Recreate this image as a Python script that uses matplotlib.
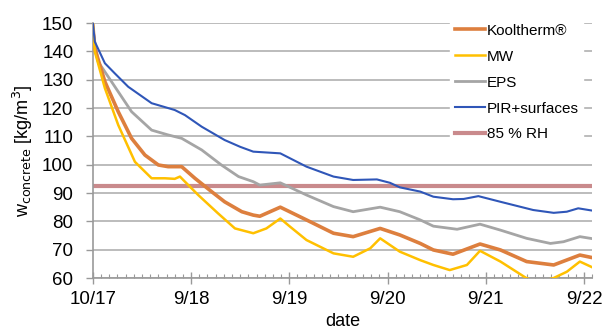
import matplotlib.pyplot as plt
from matplotlib.ticker import MultipleLocator

plt.rcParams["font.family"] = ["Liberation Sans", "DejaVu Sans"]

# months since 10/17
tick_pos = [0, 12, 24, 36, 48, 60]
tick_labels = ["10/17", "9/18", "9/19", "9/20", "9/21", "9/22"]

pir_x = [0, 0.24, 1.47, 2.69, 4.32, 7.18, 10.0, 11.25, 13.3, 16.1, 18.0, 19.6, 22.9,
         26.1, 29.4, 31.8, 34.7, 36.3, 37.5, 40.0, 41.6, 44.0, 45.3, 47.1, 49.8,
         53.8, 56.3, 57.9, 59.3, 61.0]
pir_y = [150, 143.4, 135.8, 132.2, 127.5, 121.7, 119.3, 117.5, 113.4, 108.7, 106.3,
         104.6, 104.0, 99.3, 95.8, 94.6, 94.8, 93.6, 92.0, 90.5, 88.7, 87.8, 87.9,
         88.9, 86.9, 84.0, 83.0, 83.4, 84.6, 83.8]

eps_x = [0, 0.3, 0.65, 2.28, 4.73, 7.18, 9.2, 10.85, 13.3, 15.7, 17.8, 19.6, 20.4,
         22.9, 26.1, 29.4, 31.8, 35.1, 37.5, 40.0, 41.6, 44.5, 47.3, 49.8, 53.0,
         55.9, 57.5, 59.5, 61.0]
eps_y = [148, 142, 136.3, 129.3, 118.7, 112.2, 110.5, 109.3, 105.2, 99.9, 95.8, 94.0,
         92.8, 93.6, 89.3, 85.2, 83.4, 85.0, 83.4, 80.5, 78.3, 77.2, 79.0, 76.9, 74.0,
         72.2, 72.8, 74.6, 73.9]

koolt_x = [0, 0.24, 1.47, 3.1, 4.73, 6.36, 8.0, 9.2, 10.85, 12.47, 14.5, 16.1, 18.2,
           19.6, 20.4, 22.9, 26.1, 29.4, 31.8, 35.1, 37.5, 40.0, 41.6, 44.0, 47.3,
           49.8, 53.0, 56.3, 59.5, 61.0]
koolt_y = [149, 141, 129.3, 118.7, 109.3, 103.4, 99.9, 99.3, 99.3, 95.2, 90.5, 86.9,
           83.4, 82.2, 81.8, 85.0, 80.5, 75.8, 74.6, 77.5, 75.2, 72.2, 69.9, 68.4,
           72.0, 69.9, 65.8, 64.6, 68.1, 67.2]

mw_x = [0, 0.24, 1.47, 3.1, 5.14, 7.18, 8.8, 10.0, 10.64, 11.25, 12.87, 15.3, 17.36,
        19.6, 21.2, 22.9, 24.1, 26.1, 29.4, 31.8, 33.9, 35.1, 37.5, 40.0, 41.6, 43.6,
        45.7, 47.3, 49.8, 53.0, 54.5, 56.3, 57.9, 59.5, 61.0]
mw_y = [150, 139.9, 127, 114, 101, 95.2, 95.2, 95.0, 95.8, 94.0, 89.3, 82.8, 77.5,
        75.8, 77.5, 81.0, 78.1, 73.4, 68.7, 67.5, 70.5, 74.0, 69.3, 66.3, 64.6, 62.8,
        64.6, 69.6, 65.8, 59.9, 58.5, 60.0, 62.2, 65.8, 63.8]

rh_level = 92.3

fig = plt.figure(figsize=(6.03, 3.29), dpi=100)
ax = fig.add_axes([0.154, 0.155, 0.828, 0.775])

rh = ax.axhline(rh_level, color="#c98a8c", lw=3.0, zorder=2)
l1, = ax.plot(koolt_x, koolt_y, color="#dd7f3e", lw=2.6, zorder=4)
l2, = ax.plot(mw_x, mw_y, color="#ffc000", lw=1.8, zorder=5)
l3, = ax.plot(eps_x, eps_y, color="#a5a5a5", lw=2.0, zorder=3)
l4, = ax.plot(pir_x, pir_y, color="#2f56b8", lw=1.5, zorder=6)

ax.set_xlim(0, 61)
ax.set_ylim(60, 150)
ax.set_yticks(range(60, 151, 10))
ax.set_xticks(tick_pos)
ax.set_xticklabels(tick_labels)
ax.xaxis.set_minor_locator(MultipleLocator(1))

ax.grid(axis="y", color="#b0b0b0", lw=1.2)
ax.set_axisbelow(True)
for s in ["top", "right"]:
    ax.spines[s].set_visible(False)
for s in ["left", "bottom"]:
    ax.spines[s].set_color("#999999")
    ax.spines[s].set_linewidth(1.2)

ax.tick_params(axis="y", which="major", length=5, width=1.0, color="#999999",
               pad=9, labelsize=13.5)
ax.tick_params(axis="x", which="major", direction="inout", length=8, width=1.0,
               color="#999999", pad=5, labelsize=13.5)
ax.tick_params(axis="x", which="minor", direction="in", length=3, width=0.8,
               color="#999999")

ax.set_xlabel("date", fontsize=13, labelpad=4)
ax.set_ylabel(r"w$_{\mathrm{concrete}}$ [kg/m$^3$]", fontsize=13, labelpad=5)

leg = ax.legend([l1, l2, l3, l4, rh],
                ["Kooltherm®", "MW", "EPS", "PIR+surfaces", "85 % RH"],
                loc="upper left", bbox_to_anchor=(0.70, 1.045), frameon=True,
                fontsize=11, handlelength=2.0, handletextpad=0.1,
                labelspacing=0.78, borderpad=0.3)
leg.get_frame().set_facecolor("white")
leg.get_frame().set_edgecolor("white")
leg.get_frame().set_alpha(1.0)
leg.set_zorder(10)

fig.savefig("out.png", dpi=100)
